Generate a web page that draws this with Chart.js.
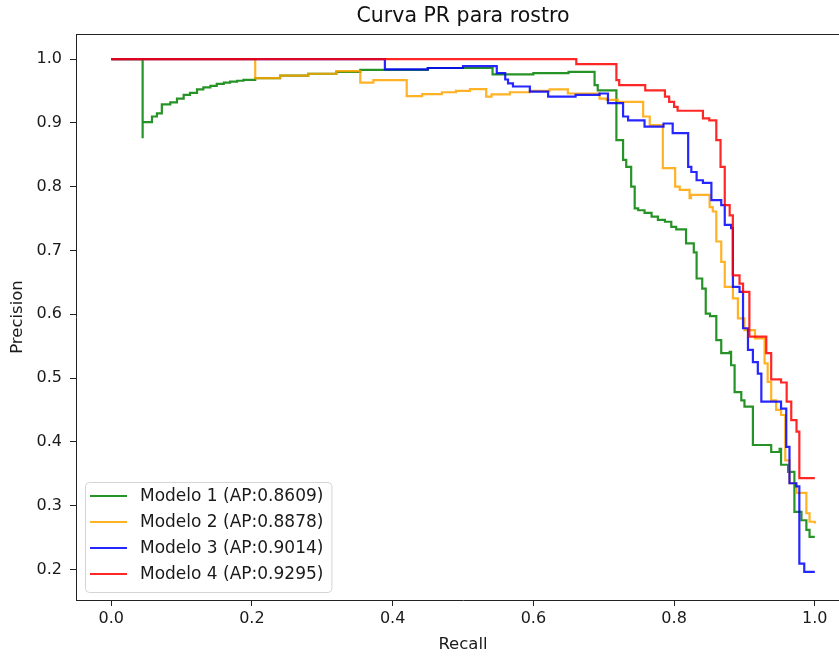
<!DOCTYPE html>
<html>
<head>
<meta charset="utf-8">
<title>Curva PR para rostro</title>
<script src="https://cdn.jsdelivr.net/npm/chart.js@4.4.1/dist/chart.umd.min.js"></script>
<style>
    html, body { margin: 0; padding: 0; background: #fff; overflow: hidden; }
    #wrap { width: 839px; height: 656px; overflow: hidden; }
</style>
</head>
<body>
<div id="wrap"><canvas id="chart" width="926" height="656"></canvas></div>
<script>
// PR curves (recall, precision at each step)
const modelNames = ['Modelo 1', 'Modelo 2', 'Modelo 3', 'Modelo 4'];
const apValues = [0.8609, 0.8878, 0.9014, 0.9295];

const recall1 = [0, 0.0447, 0.0447, 0.058, 0.065, 0.072, 0.084, 0.0935, 0.103, 0.112,
    0.122, 0.131, 0.141, 0.150, 0.160, 0.169, 0.179, 0.188, 0.2047, 0.24,
    0.28, 0.32, 0.354, 0.45, 0.542, 0.60, 0.65, 0.687, 0.6915, 0.718,
    0.7275, 0.732, 0.739, 0.744, 0.749, 0.758, 0.768, 0.777, 0.787, 0.796,
    0.803, 0.817, 0.828, 0.832, 0.840, 0.845, 0.851, 0.860, 0.867, 0.879,
    0.881, 0.886, 0.8955, 0.900, 0.912, 0.938, 0.950, 0.952, 0.962, 0.971,
    0.981, 0.988, 0.9925, 1.0];
const precision1 = [1.0, 0.876, 0.901, 0.910, 0.915, 0.929, 0.932, 0.938, 0.944, 0.947,
    0.9525, 0.9556, 0.958, 0.961, 0.963, 0.9645, 0.966, 0.9675, 0.970, 0.974,
    0.977, 0.980, 0.983, 0.986, 0.976, 0.978, 0.980, 0.959, 0.951, 0.873,
    0.842, 0.831, 0.800, 0.766, 0.763, 0.759, 0.753, 0.748, 0.745, 0.737,
    0.733, 0.711, 0.697, 0.656, 0.640, 0.601, 0.597, 0.5595, 0.539, 0.541,
    0.520, 0.478, 0.465, 0.455, 0.395, 0.384, 0.389, 0.364, 0.353, 0.290,
    0.277, 0.262, 0.251, 0.251];

const recall2 = [0, 0.2047, 0.24, 0.28, 0.32, 0.354, 0.3726, 0.420, 0.442, 0.47,
    0.49, 0.51, 0.533, 0.5406, 0.5666, 0.595, 0.623, 0.649, 0.694, 0.704,
    0.72, 0.756, 0.7654, 0.784, 0.8015, 0.808, 0.822, 0.824, 0.8505, 0.855,
    0.860, 0.867, 0.872, 0.8836, 0.8907, 0.900, 0.915, 0.9286, 0.933, 0.938,
    0.945, 0.952, 0.958, 0.964, 0.974, 0.988, 0.9925, 1.0];
const precision2 = [1.0, 0.970, 0.974, 0.977, 0.981, 0.963, 0.967, 0.942, 0.945, 0.948,
    0.950, 0.953, 0.941, 0.9446, 0.948, 0.950, 0.9525, 0.946, 0.938, 0.936,
    0.933, 0.910, 0.8965, 0.829, 0.800, 0.795, 0.782, 0.787, 0.768, 0.761,
    0.714, 0.682, 0.643, 0.625, 0.5935, 0.575, 0.562, 0.523, 0.494, 0.465,
    0.450, 0.442, 0.371, 0.335, 0.320, 0.288, 0.2747, 0.272];

const recall3 = [0, 0.389, 0.45, 0.50, 0.548, 0.560, 0.564, 0.571, 0.595, 0.621,
    0.66, 0.694, 0.706, 0.7275, 0.7346, 0.758, 0.785, 0.798, 0.820, 0.8245,
    0.832, 0.841, 0.853, 0.867, 0.872, 0.881, 0.8836, 0.893, 0.898, 0.905,
    0.912, 0.919, 0.924, 0.952, 0.9594, 0.964, 0.9736, 0.978, 0.985, 1.0];
const precision3 = [1.0, 0.984, 0.986, 0.989, 0.978, 0.968, 0.962, 0.957, 0.949, 0.941,
    0.944, 0.946, 0.931, 0.910, 0.904, 0.894, 0.899, 0.884, 0.831, 0.823,
    0.810, 0.806, 0.779, 0.771, 0.740, 0.735, 0.643, 0.635, 0.578, 0.544,
    0.525, 0.507, 0.463, 0.452, 0.392, 0.335, 0.330, 0.209, 0.196, 0.196];

const recall4 = [0, 0.661, 0.718, 0.722, 0.759, 0.787, 0.793, 0.800, 0.805, 0.841,
    0.850, 0.860, 0.866, 0.872, 0.879, 0.8835, 0.893, 0.898, 0.907, 0.931,
    0.938, 0.952, 0.960, 0.9665, 0.974, 0.978, 1.0];
const precision4 = [1.0, 0.992, 0.967, 0.959, 0.951, 0.941, 0.933, 0.925, 0.919, 0.907,
    0.904, 0.873, 0.831, 0.771, 0.755, 0.661, 0.648, 0.635, 0.565, 0.539,
    0.498, 0.493, 0.463, 0.434, 0.416, 0.343, 0.343];

const xTickValues = [0.0, 0.2, 0.4, 0.6, 0.8, 1.0];
const yTickValues = [0.2, 0.3, 0.4, 0.5, 0.6, 0.7, 0.8, 0.9, 1.0];

const curves = [
    { recall: recall1, precision: precision1, color: 'rgba(0, 128, 0, 0.85)' },
    { recall: recall2, precision: precision2, color: 'rgba(255, 165, 0, 0.85)' },
    { recall: recall3, precision: precision3, color: 'rgba(0, 0, 255, 0.85)' },
    { recall: recall4, precision: precision4, color: 'rgba(255, 0, 0, 0.85)' }
];

const axisColor = '#222';

// matplotlib style: top spine (Chart.js only draws the axis borders)
const topSpine = {
    id: 'topSpine',
    afterDraw(chart) {
        const { ctx, chartArea } = chart;
        ctx.save();
        ctx.strokeStyle = axisColor;
        ctx.lineWidth = 1;
        ctx.beginPath();
        ctx.moveTo(chartArea.left, chartArea.top + 0.5);
        ctx.lineTo(chartArea.right, chartArea.top + 0.5);
        ctx.stroke();
        ctx.restore();
    }
};

// legend box in the lower left corner of the plot, like plt.legend()
const mplLegend = {
    id: 'mplLegend',
    afterDatasetsDraw(chart) {
        const { ctx, chartArea } = chart;
        const sets = chart.data.datasets;
        ctx.save();
        ctx.font = '17px "DejaVu Sans", sans-serif';
        const textW = Math.max(...sets.map(ds => ctx.measureText(ds.label).width));
        const w = 55 + textW + 8;
        const h = 110;
        const left = chartArea.left + 9;
        const top = chartArea.bottom - 8 - h;

        ctx.beginPath();
        ctx.roundRect(left + 0.5, top + 0.5, w, h, 4);
        ctx.fillStyle = 'rgba(255, 255, 255, 0.8)';
        ctx.fill();
        ctx.strokeStyle = '#d4d4d4';
        ctx.lineWidth = 1;
        ctx.stroke();

        sets.forEach((ds, i) => {
            const y = top + 14 + i * 26;
            ctx.beginPath();
            ctx.moveTo(left + 5, y);
            ctx.lineTo(left + 42, y);
            ctx.strokeStyle = ds.borderColor;
            ctx.lineWidth = ds.borderWidth;
            ctx.stroke();
            ctx.fillStyle = '#1a1a1a';
            ctx.textBaseline = 'middle';
            ctx.fillText(ds.label, left + 55, y + 1);
        });
        ctx.restore();
    }
};

Chart.defaults.font.family = '"DejaVu Sans", sans-serif';
Chart.defaults.color = '#1a1a1a';

const chartContext = document.getElementById('chart').getContext('2d');

const prChart = new Chart(chartContext, {
    type: 'line',
    data: {
        datasets: curves.map((c, i) => ({
            label: modelNames[i] + ' (AP:' + apValues[i].toFixed(4) + ')',
            data: c.recall.map((r, j) => ({ x: r, y: c.precision[j] })),
            borderColor: c.color,
            backgroundColor: c.color,
            borderWidth: 2.2,
            stepped: true,
            pointRadius: 0,
            fill: false,
            order: curves.length - i   // later models drawn on top
        }))
    },
    options: {
        responsive: false,
        animation: false,
        layout: { padding: { left: 0, top: 0, right: 76, bottom: 0 } },
        scales: {
            x: {
                type: 'linear',
                min: -0.05,
                max: 1.05,
                afterFit: scale => { scale.height = 56; },
                afterBuildTicks: scale => { scale.ticks = xTickValues.map(v => ({ value: v })); },
                grid: { drawOnChartArea: false, drawTicks: true, tickLength: 6, tickColor: axisColor },
                border: { display: true, color: axisColor, width: 1 },
                ticks: {
                    padding: 3,
                    font: { size: 16 },
                    callback: v => v.toFixed(1)
                },
                title: {
                    display: true,
                    text: 'Recall',
                    font: { size: 16.5 },
                    padding: { top: 0, bottom: 1.5 }
                }
            },
            y: {
                type: 'linear',
                min: 0.152,
                max: 1.0393,
                afterFit: scale => { scale.width = 76; },
                afterBuildTicks: scale => { scale.ticks = yTickValues.map(v => ({ value: v })); },
                grid: { drawOnChartArea: false, drawTicks: true, tickLength: 6, tickColor: axisColor },
                border: { display: true, color: axisColor, width: 1 },
                ticks: {
                    padding: 8,
                    font: { size: 16 },
                    callback: v => v.toFixed(1)
                },
                title: {
                    display: true,
                    text: 'Precision',
                    font: { size: 16.5 },
                    padding: { top: 8, bottom: 0 }
                }
            }
        },
        plugins: {
            title: {
                display: true,
                text: 'Curva PR para rostro',
                fullSize: false,
                color: '#111',
                font: { size: 20.5, weight: 'normal' },
                padding: { top: 4, bottom: 5.4 }
            },
            legend: { display: false },
            tooltip: { enabled: false }
        }
    },
    plugins: [topSpine, mplLegend]
});
</script>
</body>
</html>
